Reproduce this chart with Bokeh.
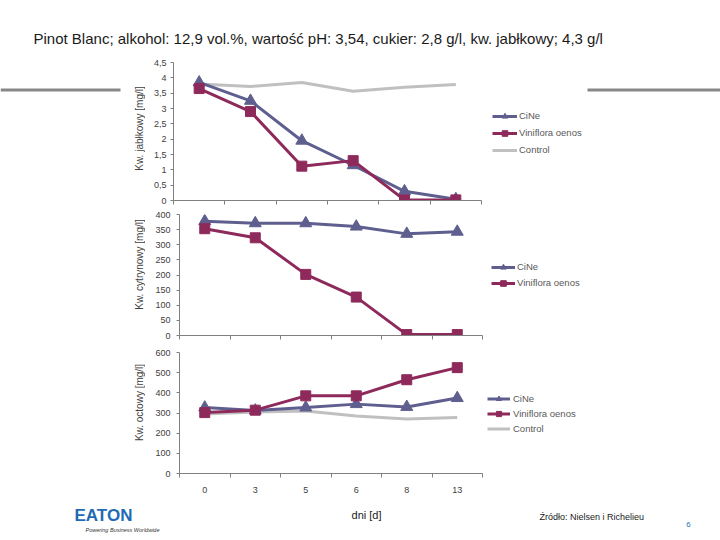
from math import pi
from bokeh.plotting import figure
from bokeh.models import Range1d, FixedTicker, Legend, LegendItem, Label, BoxAnnotation
from bokeh.layouts import column, row
from bokeh.embed import file_html
from bokeh.resources import INLINE

# ---------------- data ----------------
days = ["0", "3", "5", "6", "8", "13"]

malic_cine = [3.85, 3.25, 1.95, 1.15, 0.3, 0.04]
malic_vinif = [3.65, 2.9, 1.12, 1.3, 0.02, 0.02]
malic_control = [3.8, 3.72, 3.85, 3.56, 3.69, 3.78]

citric_cine = [378, 371, 371, 360, 336, 343]
citric_vinif = [353, 323, 202, 127, 3, 3]

acetic_cine = [327, 312, 327, 344, 330, 374]
acetic_vinif = [302, 314, 385, 385, 465, 525]
acetic_control = [295, 305, 310, 285, 270, 278]

series_names = ["CiNe", "Viniflora oenos", "Control"]
y_titles = ["Kw. jabłkowy [mg/l]", "Kw. cytrynowy [mg/l]", "Kw. octowy [mg/l]"]
title_text = "Pinot Blanc; alkohol: 12,9 vol.%, wartość pH: 3,54, cukier: 2,8 g/l, kw. jabłkowy; 4,3 g/l"
x_title = "dni [d]"
source_text = "Źródło: Nielsen i Richelieu"
page_no = "6"
logo_text = "EATON"
logo_tag = "Powering Business Worldwide"

# ---------------- style ----------------
FONT = "Liberation Sans"
C_CINE = "#5f5f8f"
C_VIN = "#8e2a5b"
C_CTRL = "#c0c0c0"
AXIS_C = "#808080"
TXT_C = "#404040"
LEG_C = "#595959"
BAR_C = "#878787"
W = 720
FILL_W = 145

xs = list(range(len(days)))
bounds = [i - 0.5 for i in range(len(days) + 1)]


def fmt_comma(v):
    return ("%g" % v).replace(".", ",")


def blank(width, height, top=0, bottom=0):
    f = figure(width=width, height=height, x_axis_type=None, y_axis_type=None,
               output_backend="svg", toolbar_location=None,
               x_range=Range1d(0, 1), y_range=Range1d(0, 1),
               min_border_left=0, min_border_right=0,
               min_border_top=top, min_border_bottom=bottom)
    f.outline_line_color = None
    f.background_fill_color = "white"
    f.border_fill_color = "white"
    return f


def make_panel(height, frame_left, top, bottom, ymax, ystep, show_x, y_standoff, axis_px):
    width = W - FILL_W
    fw = W - frame_left
    cat_w = axis_px / len(days)
    xend = -0.5 + fw / cat_w
    p = figure(width=width, height=height, output_backend="svg", toolbar_location=None,
               x_range=Range1d(-0.5, xend), y_range=Range1d(0, ymax),
               min_border_left=frame_left - FILL_W, min_border_right=0,
               min_border_top=top, min_border_bottom=bottom)
    p.outline_line_color = None
    p.grid.visible = False
    p.background_fill_color = "white"
    p.border_fill_color = "white"

    n = int(round(ymax / ystep))
    yt = [i * ystep for i in range(n + 1)]
    p.yaxis.ticker = FixedTicker(ticks=yt)
    p.yaxis.major_label_overrides = {t: fmt_comma(t) for t in yt}
    p.yaxis.axis_line_color = AXIS_C
    p.yaxis.major_tick_line_color = AXIS_C
    p.yaxis.major_tick_out = 3
    p.yaxis.major_tick_in = 0
    p.yaxis.minor_tick_line_color = None
    p.yaxis.major_label_text_font = FONT
    p.yaxis.major_label_text_font_size = "9px"
    p.yaxis.major_label_text_color = TXT_C
    p.yaxis.major_label_standoff = y_standoff

    p.xaxis.bounds = (-0.5, len(days) - 0.5)
    p.xaxis.ticker = FixedTicker(ticks=xs, minor_ticks=bounds)
    p.xaxis.major_label_overrides = {i: (days[i] if show_x else "") for i in xs}
    p.xaxis.axis_line_color = AXIS_C
    p.xaxis.major_tick_out = 0
    p.xaxis.major_tick_in = 0
    p.xaxis.minor_tick_line_color = AXIS_C
    p.xaxis.minor_tick_out = 4
    p.xaxis.minor_tick_in = 0
    p.xaxis.major_label_text_font = FONT
    p.xaxis.major_label_text_font_size = "9px" if show_x else "0px"
    p.xaxis.major_label_text_color = TXT_C
    p.xaxis.major_label_standoff = 9 if show_x else 0
    return p


def add_series(p, cine, vinif, control):
    items = []
    rc = None
    if control is not None:
        rc = p.line(xs, control, line_color=C_CTRL, line_width=3)
    l1 = p.line(xs, cine, line_color=C_CINE, line_width=3)
    m1 = p.scatter(xs, cine, marker="triangle", size=12, fill_color=C_CINE, line_color=C_CINE)
    l2 = p.line(xs, vinif, line_color=C_VIN, line_width=3)
    m2 = p.scatter(xs, vinif, marker="square", size=10, fill_color=C_VIN, line_color=C_VIN)
    items.append(LegendItem(label=series_names[0], renderers=[l1, m1]))
    items.append(LegendItem(label=series_names[1], renderers=[l2, m2]))
    if rc is not None:
        items.append(LegendItem(label=series_names[2], renderers=[rc]))
    return items


def add_legend(p, items, loc, gh, sp, gw, standoff):
    lg = Legend(items=items, location=loc, glyph_width=gw, glyph_height=gh,
                label_height=gh, spacing=sp, padding=0, margin=0,
                label_standoff=standoff, border_line_color=None,
                background_fill_alpha=0, label_text_font=FONT,
                label_text_font_size="9.5px", label_text_color=LEG_C)
    p.add_layout(lg)


def label(p, fl, fb, px, py, text, size, color, align="left", baseline="middle",
          angle=0, style="normal"):
    p.add_layout(Label(x=px - fl, y=fb - py, x_units="screen", y_units="screen",
                       text=text, text_font=FONT, text_font_size=size,
                       text_color=color, text_align=align, text_baseline=baseline,
                       angle=angle, text_font_style=style))


def bar(p, fl, fb, x0, x1, y0, y1):
    p.add_layout(BoxAnnotation(left=x0 - fl, right=x1 - fl, bottom=fb - y1, top=fb - y0,
                               left_units="screen", right_units="screen",
                               top_units="screen", bottom_units="screen",
                               fill_color=BAR_C, fill_alpha=1.0, line_color=None))


# ---------------- header (page y 0..54) ----------------
hdr = blank(W, 54)
label(hdr, 0, 54, 33, 38, title_text, "15px", "#1a1a1a")

# ---------------- panel 1 (page y 54..208) ----------------
Y0 = 54
F1L, F1T, F1B = 173, 62, 200
p1 = make_panel(154, F1L, F1T - Y0, 208 - F1B, 4.5, 0.5, False, 4, 308)
items1 = add_series(p1, malic_cine, malic_vinif, malic_control)
add_legend(p1, items1, (492 - F1L, F1B - 156.7), 14, 3, 25, 2)
bar(p1, F1L, F1B, 587, 720, 88, 91)
f1 = blank(FILL_W, 154, F1T - Y0, 208 - F1B)
bar(f1, 0, F1B, 0, 120, 88, 91)
label(f1, 0, F1B, 139, 128, y_titles[0], "10px", TXT_C, align="center", angle=pi / 2)

# ---------------- panel 2 (page y 208..346) ----------------
Y0 = 208
F2L, F2T, F2B = 179, 214, 335
p2 = make_panel(138, F2L, F2T - Y0, 346 - F2B, 400, 50, False, 6, 303)
items2 = add_series(p2, citric_cine, citric_vinif, None)
add_legend(p2, items2, (491 - F2L, F2B - 289.7), 14, 2, 24, 2)
f2 = blank(FILL_W, 138, F2T - Y0, 346 - F2B)
label(f2, 0, F2B, 139, 264, y_titles[1], "10px", TXT_C, align="center", angle=pi / 2)

# ---------------- panel 3 (page y 346..500) ----------------
Y0 = 346
F3L, F3T, F3B = 179, 352, 473
p3 = make_panel(154, F3L, F3T - Y0, 500 - F3B, 600, 100, True, 6, 303)
items3 = add_series(p3, acetic_cine, acetic_vinif, acetic_control)
add_legend(p3, items3, (487 - F3L, F3B - 434.8), 13, 2, 23, 3)
f3 = blank(FILL_W, 154, F3T - Y0, 500 - F3B)
label(f3, 0, F3B, 139, 402, y_titles[2], "10px", TXT_C, align="center", angle=pi / 2)

# ---------------- footer (page y 500..540) ----------------
ftr = blank(W, 40)
label(ftr, 0, 540, 366, 514, x_title, "11px", "#1a1a1a", align="center")
label(ftr, 0, 540, 539, 516, source_text, "9px", "#1a1a1a")
label(ftr, 0, 540, 688, 524, page_no, "8px", "#2e75b6", align="center")
label(ftr, 0, 540, 74, 515, logo_text, "17px", "#1f6ab4", style="bold")
label(ftr, 0, 540, 85, 529, logo_tag, "5.5px", "#333333", style="italic")

layout = column(hdr, row(f1, p1), row(f2, p2), row(f3, p3), ftr)
open("out.html", "w").write(file_html(layout, INLINE))
